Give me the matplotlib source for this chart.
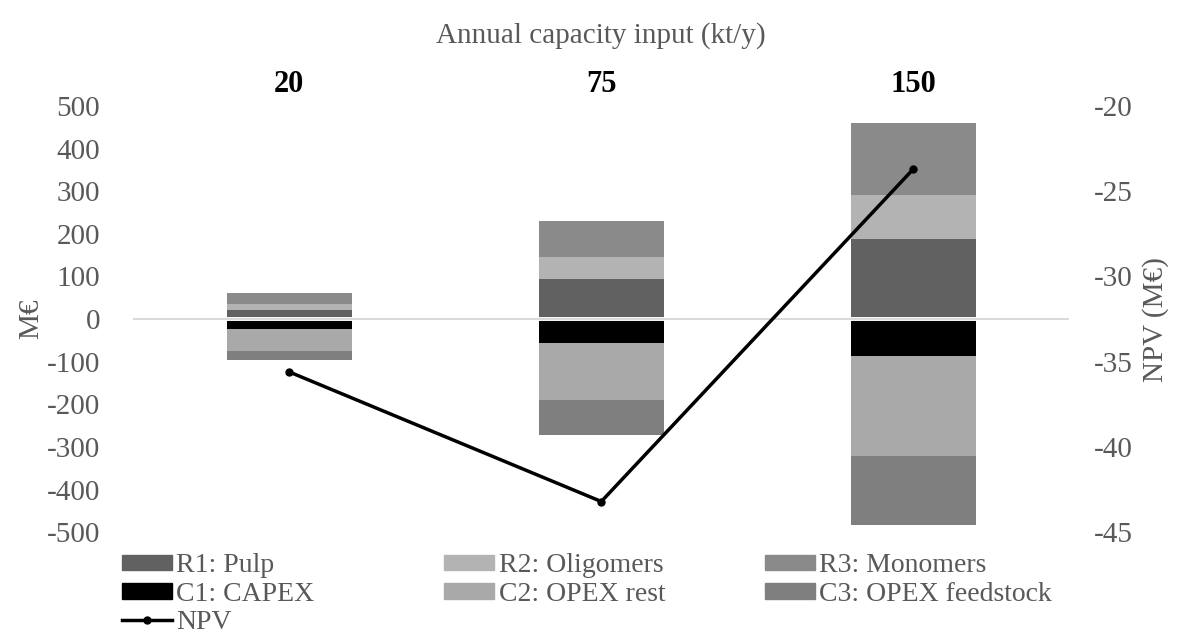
import matplotlib.pyplot as plt
from matplotlib.lines import Line2D
from matplotlib.patches import Patch

plt.rcParams['font.family'] = ['Liberation Serif', 'DejaVu Serif']
plt.rcParams['axes.unicode_minus'] = False

# data
capacities = ['20', '75', '150']
r1_pulp = [22, 93, 189]
r2_oligomers = [14, 52, 102]
r3_monomers = [24, 84, 169]
c1_capex = [-24, -57, -87]
c2_opex_rest = [-50, -134, -234]
c3_opex_feed = [-22, -81, -162]
npv = [-35.6, -43.2, -23.7]

grey_txt = '#595959'
col_r1, col_r2, col_r3 = '#616161', '#b3b3b3', '#8a8a8a'
col_c1, col_c2, col_c3 = '#000000', '#a9a9a9', '#7f7f7f'

fig = plt.figure(figsize=(11.79, 6.42), dpi=100)
ax = fig.add_axes([0.113, 0.171, 0.794, 0.664])
x = range(len(capacities))
w = 0.4

pos_bottom = [0, 0, 0]
for vals, c in [(r1_pulp, col_r1), (r2_oligomers, col_r2), (r3_monomers, col_r3)]:
    ax.bar(x, vals, w, bottom=pos_bottom, color=c, zorder=2)
    pos_bottom = [b + v for b, v in zip(pos_bottom, vals)]

neg_bottom = [0, 0, 0]
for vals, c in [(c1_capex, col_c1), (c2_opex_rest, col_c2), (c3_opex_feed, col_c3)]:
    ax.bar(x, vals, w, bottom=neg_bottom, color=c, zorder=2)
    neg_bottom = [b + v for b, v in zip(neg_bottom, vals)]

ax.axhline(0, color='white', lw=2.8, zorder=3)
ax.axhline(0, color='#d9d9d9', lw=1.4, zorder=4)
ax.set_ylim(-500, 500)
ax.set_yticks(range(-500, 501, 100))
ax.set_xlim(-0.5, 2.5)
ax.set_xticks(list(x))
ax.set_xticklabels(capacities, fontsize=22, fontweight='bold', color='black')
ax.xaxis.tick_top()
ax.xaxis.set_label_position('top')
ax.set_xlabel('Annual capacity input (kt/y)', fontsize=21, color=grey_txt, labelpad=20)
ax.set_ylabel('M€', fontsize=21, color=grey_txt, labelpad=2)
ax.tick_params(axis='y', labelsize=21, labelcolor=grey_txt, length=0, pad=24)
ax.tick_params(axis='x', length=0, pad=5)
for s in ax.spines.values():
    s.set_visible(False)

ax2 = ax.twinx()
ax2.plot(list(x), npv, color='black', lw=2.5, marker='o', ms=5, zorder=5)
ax2.set_ylim(-45, -20)
ax2.set_yticks(range(-45, -19, 5))
ax2.tick_params(axis='y', labelsize=21, labelcolor=grey_txt, length=0, pad=18)
ax2.set_ylabel('NPV (M€)', fontsize=21, color=grey_txt, labelpad=6)
for s in ax2.spines.values():
    s.set_visible(False)

columns = [
    [Patch(color=col_r1, label='R1: Pulp'),
     Patch(color=col_c1, label='C1: CAPEX'),
     Line2D([], [], color='black', lw=2.5, marker='o', ms=5, label='NPV')],
    [Patch(color=col_r2, label='R2: Oligomers'),
     Patch(color=col_c2, label='C2: OPEX rest')],
    [Patch(color=col_r3, label='R3: Monomers'),
     Patch(color=col_c3, label='C3: OPEX feedstock')],
]
col_x = [0.1035, 0.377, 0.649]
for hs, cx in zip(columns, col_x):
    leg = fig.legend(handles=hs, loc='upper left', bbox_to_anchor=(cx, 0.138),
                     frameon=False, fontsize=20, handlelength=1.8, handleheight=0.5,
                     handletextpad=0.15, labelspacing=0.12, borderpad=0,
                     borderaxespad=0)
    for t in leg.get_texts():
        t.set_color(grey_txt)

fig.savefig('out.png', dpi=100)
